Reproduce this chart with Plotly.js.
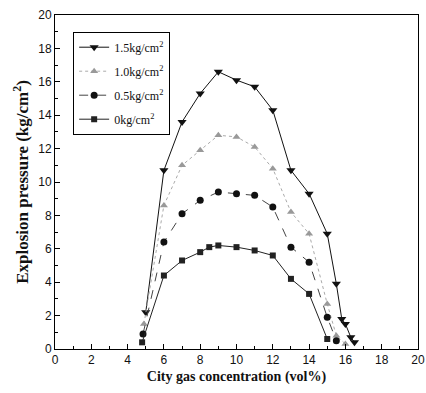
<!DOCTYPE html>
<html>
<head>
<meta charset="utf-8">
<script src="https://cdn.plot.ly/plotly-3.0.1.min.js"></script>
<style>html,body{margin:0;padding:0;background:#fff}#chart{width:426px;height:393px}</style>
</head>
<body>
<div id="chart"></div>
<script>
// Data
const seriesNames = ["1.5kg/cm<sup>2</sup>", "1.0kg/cm<sup>2</sup>", "0.5kg/cm<sup>2</sup>", "0kg/cm<sup>2</sup>"];

const x15 = [5.0, 6, 7, 8, 9, 10, 11, 12, 13, 14, 15, 15.5, 15.8, 16.0, 16.3, 16.5];
const y15 = [2.2, 10.7, 13.6, 15.3, 16.6, 16.1, 15.7, 14.3, 10.7, 9.3, 6.9, 3.9, 1.8, 1.5, 0.7, 0.4];

const x10 = [4.9, 6, 7, 8, 9, 10, 11, 12, 13, 14, 15, 15.5, 16.0];
const y10 = [1.5, 8.6, 11.0, 11.9, 12.8, 12.7, 12.1, 10.8, 8.2, 6.9, 2.7, 0.8, 0.3];

const x05 = [4.85, 6, 7, 8, 9, 10, 11, 12, 13, 14, 15, 15.5];
const y05 = [0.9, 6.4, 8.1, 8.9, 9.4, 9.3, 9.2, 8.5, 6.1, 5.2, 1.9, 0.5];

const x00 = [4.8, 6, 7, 8, 8.5, 9, 10, 11, 12, 13, 14, 15];
const y00 = [0.4, 4.4, 5.3, 5.8, 6.1, 6.2, 6.1, 5.9, 5.6, 4.2, 3.3, 0.6];

const xTickVals = [0, 2, 4, 6, 8, 10, 12, 14, 16, 18, 20];
const yTickVals = [0, 2, 4, 6, 8, 10, 12, 14, 16, 18, 20];

const traces = [
  {x: x15, y: y15, name: seriesNames[0], legendgroup: "g1", mode: "lines+markers",
   line: {color: "#111", width: 1, dash: "solid"},
   marker: {symbol: "triangle-down", size: 8, color: "#111"}},
  {x: x10, y: y10, name: seriesNames[1], legendgroup: "g2", mode: "lines+markers",
   line: {color: "#aaa", width: 1, dash: "dot"},
   marker: {symbol: "triangle-up", size: 7, color: "#999"}},
  {x: x05, y: y05, name: seriesNames[2], legendgroup: "g3", mode: "lines+markers",
   line: {color: "#444", width: 1, dash: "dash"},
   marker: {symbol: "circle", size: 7, color: "#111"}},
  {x: x00, y: y00, name: seriesNames[3], legendgroup: "g4", mode: "lines+markers",
   line: {color: "#222", width: 1, dash: "solid"},
   marker: {symbol: "square", size: 6, color: "#222"}}
];

const axisCommon = {
  showgrid: false, zeroline: false, showline: true, linecolor: "#000", linewidth: 1,
  mirror: true, ticks: "inside", ticklen: 5, tickwidth: 1, tickcolor: "#000",
  tickfont: {family: "Liberation Sans, Arial, sans-serif", size: 12, color: "#111"},
  minor: {dtick: 1, ticks: "inside", ticklen: 3, tickwidth: 1, tickcolor: "#000"}
};

const layout = {
  width: 426, height: 393,
  margin: {l: 55, r: 8, t: 15, b: 44},
  paper_bgcolor: "#fff", plot_bgcolor: "#fff",
  showlegend: true,
  legend: {
    x: 0.05, y: 0.95, xanchor: "left", yanchor: "top",
    bordercolor: "#000", borderwidth: 1, bgcolor: "#fff",
    font: {family: "Liberation Serif, Times New Roman, serif", size: 12, color: "#111"},
    itemwidth: 30, traceorder: "grouped", tracegroupgap: 5
  },
  xaxis: Object.assign({}, axisCommon, {
    range: [0, 20], tickvals: xTickVals,
    title: {text: "City gas concentration (vol%)", standoff: 4,
      font: {family: "Liberation Serif, Times New Roman, serif", size: 14, color: "#111", weight: "bold"}}
  }),
  yaxis: Object.assign({}, axisCommon, {
    range: [0, 20], tickvals: yTickVals,
    title: {text: "Explosion pressure (kg/cm<sup>2</sup>)", standoff: 5,
      font: {family: "Liberation Serif, Times New Roman, serif", size: 17, color: "#111", weight: "bold"}}
  })
};

Plotly.newPlot("chart", traces, layout, {displayModeBar: false, staticPlot: true});
</script>
</body>
</html>
